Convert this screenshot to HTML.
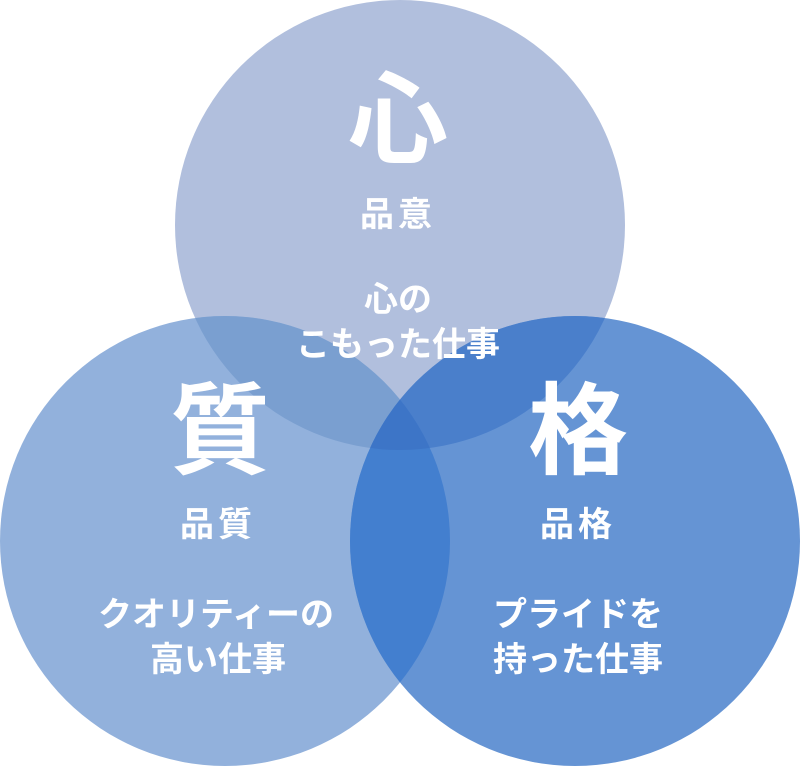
<!DOCTYPE html>
<html><head><meta charset="utf-8"><style>
html,body{margin:0;padding:0;background:#fff;}
svg text{font-family:"Liberation Sans","Noto Sans CJK JP",sans-serif;fill:#fff;font-weight:bold;text-anchor:middle;}
</style></head><body>
<svg width="800" height="766" viewBox="0 0 800 766" xmlns="http://www.w3.org/2000/svg">
<defs>
<clipPath id="cT"><circle cx="400" cy="225" r="225"/></clipPath>
<clipPath id="cL"><circle cx="225" cy="541" r="225"/></clipPath>
<clipPath id="cR"><circle cx="575" cy="541" r="225"/></clipPath>
</defs>
<circle cx="400" cy="225" r="225" fill="#b1bfdd"/>
<circle cx="225" cy="541" r="225" fill="#92b1dc"/>
<circle cx="575" cy="541" r="225" fill="#6594d4"/>
<g clip-path="url(#cT)"><circle cx="225" cy="541" r="225" fill="#7a9fd0"/><circle cx="575" cy="541" r="225" fill="#4a7fcb"/></g>
<g clip-path="url(#cL)"><circle cx="575" cy="541" r="225" fill="#437fcf"/></g>
<g clip-path="url(#cL)"><g clip-path="url(#cR)"><circle cx="400" cy="225" r="225" fill="#3d75c7"/></g></g>
<text x="398" y="155" font-size="100">心</text>
<text x="398" y="226" font-size="34" letter-spacing="4">品意</text>
<text x="398" y="311" font-size="34">心の</text>
<text x="398" y="356" font-size="34">こもった仕事</text>
<text x="220" y="466" font-size="100">質</text>
<text x="218" y="536" font-size="34" letter-spacing="4">品質</text>
<text x="216" y="626" font-size="34">クオリティーの</text>
<text x="218" y="671" font-size="34">高い仕事</text>
<text x="578" y="466" font-size="100">格</text>
<text x="578" y="536" font-size="34" letter-spacing="4">品格</text>
<text x="578" y="626" font-size="34">プライドを</text>
<text x="578" y="671" font-size="34">持った仕事</text>
</svg>
</body></html>
